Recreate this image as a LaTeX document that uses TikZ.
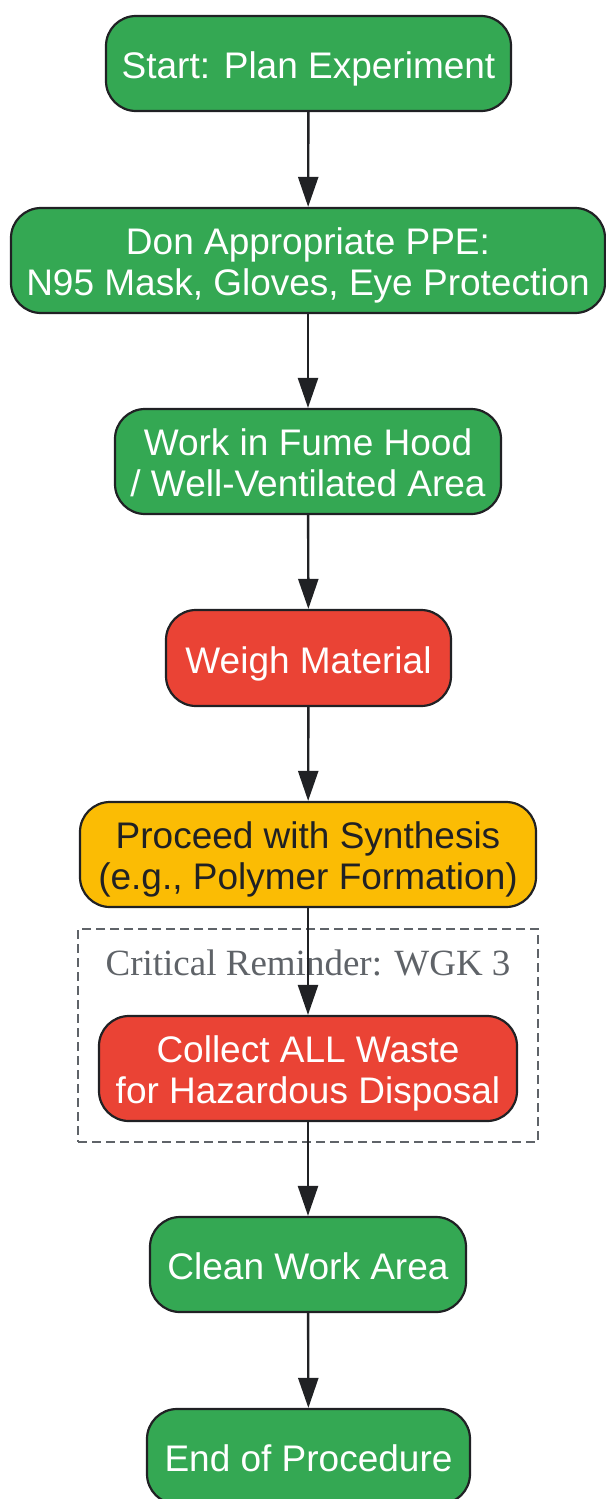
\documentclass[tikz,border=0pt]{standalone}
\usepackage{fontspec}
\setmainfont{Liberation Sans}
\newfontfamily\serifnote{Liberation Serif}
\usetikzlibrary{arrows.meta}
\definecolor{gfill}{HTML}{34A853}
\definecolor{rfill}{HTML}{EA4335}
\definecolor{yfill}{HTML}{FBBC04}
\definecolor{edgec}{HTML}{202124}
\definecolor{notec}{HTML}{5F6368}
\begin{document}
\begin{tikzpicture}[x=1pt,y=-1pt,
  box/.style={draw=edgec,line width=2.2pt,rounded corners=30pt,align=center,
    font=\fontsize{37}{41}\selectfont,inner sep=0pt,
    execute at begin node={\rule{0pt}{38pt}},
    execute at end node={\rule[-8pt]{0pt}{8pt}}},
  twoline/.style={execute at begin node={\rule{0pt}{77pt}}},
  gbox/.style={box,fill=gfill,text=white},
  rbox/.style={box,fill=rfill,text=white},
  ybox/.style={box,fill=yfill,text=edgec},
  arr/.style={draw=edgec,line width=2.4pt,-{Triangle[length=30pt,width=20pt]}},
  group/.style={draw=notec,line width=2.6pt,dash pattern=on 9pt off 5pt}]
\useasboundingbox (0,0) rectangle (605,1499);
\node[gbox,minimum width=405pt,minimum height=95pt] (n1) at (308.5,63.5) {Start: Plan Experiment};
\node[gbox,twoline,minimum width=594pt,minimum height=105pt] (n2) at (308,260.5) {Don Appropriate PPE:\\N95 Mask, Gloves, Eye Protection};
\node[gbox,twoline,minimum width=386pt,minimum height=105pt] (n3) at (308,461.5) {Work in Fume Hood\\/ Well-Ventilated Area};
\node[rbox,minimum width=285pt,minimum height=96pt] (n4) at (308.5,658) {Weigh Material};
\node[ybox,twoline,minimum width=456pt,minimum height=105pt] (n5) at (308,854.5) {Proceed with Synthesis\\(e.g., Polymer Formation)};
\node[group,minimum width=460pt,minimum height=213pt,inner sep=0pt] (grp) at (308,1035.5) {};
\node[text=notec,font=\serifnote\fontsize{37}{41}\selectfont,inner sep=0pt,anchor=base] (lbl) at (308,975) {Critical Reminder: WGK 3};
\node[rbox,twoline,minimum width=418pt,minimum height=105pt] (n6) at (308,1068.5) {Collect ALL Waste\\for Hazardous Disposal};
\node[gbox,minimum width=316pt,minimum height=95pt] (n7) at (308,1264.5) {Clean Work Area};
\node[gbox,minimum width=323pt,minimum height=95pt] (n8) at (308.5,1456.5) {End of Procedure};
\draw[arr] (n1) -- (n2);
\draw[arr] (n2) -- (n3);
\draw[arr] (n3) -- (n4);
\draw[arr] (n4) -- (n5);
\draw[arr] (n5.south) -- (n6.north);
\draw[arr] (n6) -- (n7);
\draw[arr] (n7) -- (n8);
\end{tikzpicture}
\end{document}
